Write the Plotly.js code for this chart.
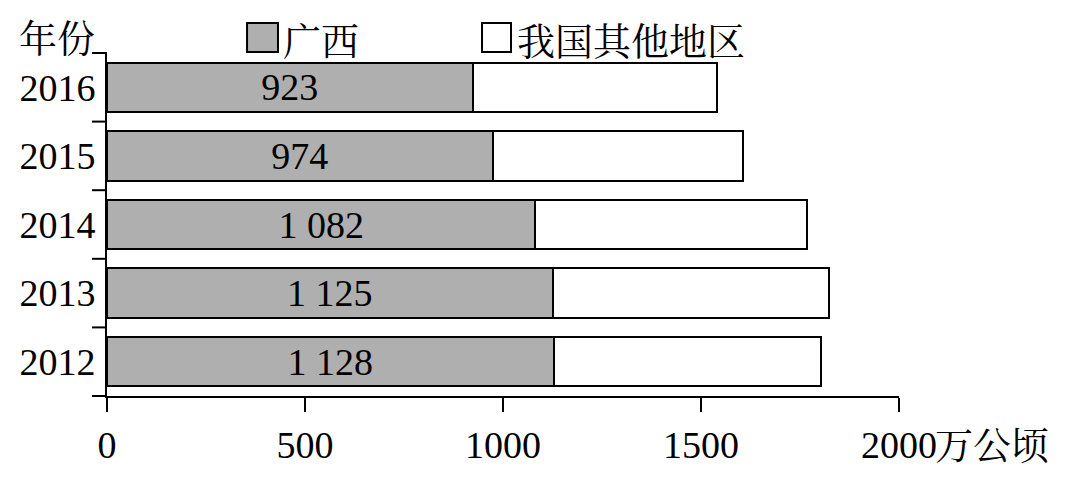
<!DOCTYPE html>
<html>
<head>
<meta charset="utf-8">
<script src="https://cdn.plot.ly/plotly-3.0.1.min.js"></script>
<style>
  html, body { margin: 0; padding: 0; background: #fff; }
  #chart { width: 1080px; height: 477px; }
</style>
</head>
<body>
<div id="chart"></div>
<script>
// 耕地面积（万公顷）：广西与我国其他地区
const years = ['2012', '2013', '2014', '2015', '2016'];
const guangxi = [1128, 1125, 1082, 974, 923];
const others = [675, 698, 686, 631, 618];
const xTickVals = [0, 500, 1000, 1500, 2000];
const xTickText = ['0', '500', '1000', '1500', '2000'];
const unitLabel = '万公顷';
const seriesNames = ['广西', '我国其他地区'];
const yAxisLabel = '年份';

const numFont = 'Liberation Serif, Times New Roman, serif';
const cjkFont = 'Noto Serif CJK SC, Noto Sans CJK SC, serif';

// 千位用空格分隔，例如 1 082
function groupThousands(v) {
  return String(v).replace(/\B(?=(\d{3})+(?!\d))/g, ' ');
}

// 纵轴范围 [-0.5, n-0.5]；年份类别之间的分界换算为纸面坐标
const yRange = [-0.5, years.length - 0.5];
const yBoundaryFrac = years.map((_, i) => i / years.length).concat([1]);

const plotW = 1080 - 107 - 181;
const yTickLen = 15;

const barLine = { color: '#000', width: 2 };

const traces = [
  {
    type: 'bar',
    orientation: 'h',
    name: seriesNames[0],
    y: years,
    x: guangxi,
    marker: { color: '#afafaf', line: barLine },
    text: guangxi.map(groupThousands),
    texttemplate: '%{text}',
    textposition: 'inside',
    insidetextanchor: 'middle',
    constraintext: 'none',
    textangle: 0,
    insidetextfont: { family: numFont, size: 38, color: '#000' },
    hoverinfo: 'x+y+name'
  },
  {
    type: 'bar',
    orientation: 'h',
    name: seriesNames[1],
    y: years,
    x: others,
    marker: { color: '#ffffff', line: barLine },
    hoverinfo: 'x+y+name'
  }
];

// 纵轴分界刻度线
const shapes = yBoundaryFrac.map(f => ({
  type: 'line', xref: 'paper', yref: 'paper', layer: 'above',
  x0: -yTickLen / plotW, x1: 0, y0: f, y1: f,
  line: { color: '#000', width: 2 }
}));

// 图例色块（纸面坐标）
const swatchY0 = 1.003, swatchY1 = 1.0875;
shapes.push(
  { type: 'rect', xref: 'paper', yref: 'paper', x0: 0.1768, x1: 0.2159, y0: swatchY0, y1: swatchY1,
    fillcolor: '#afafaf', line: { color: '#000', width: 2 } },
  { type: 'rect', xref: 'paper', yref: 'paper', x0: 0.4735, x1: 0.5101, y0: swatchY0, y1: swatchY1,
    fillcolor: '#ffffff', line: { color: '#000', width: 2 } }
);

const cjkSize = 38;
const annotations = [
  { xref: 'paper', yref: 'paper', x: 0.2197, y: 1.0437, xanchor: 'left', yanchor: 'middle',
    text: seriesNames[0], showarrow: false, font: { family: cjkFont, size: cjkSize, color: '#000' } },
  { xref: 'paper', yref: 'paper', x: 0.5152, y: 1.0437, xanchor: 'left', yanchor: 'middle',
    text: seriesNames[1], showarrow: false, font: { family: cjkFont, size: cjkSize, color: '#000' } },
  { xref: 'paper', yref: 'paper', x: -0.1135, y: 1.052, xanchor: 'left', yanchor: 'middle',
    text: yAxisLabel, showarrow: false, font: { family: cjkFont, size: cjkSize, color: '#000' } },
  { xref: 'x', yref: 'paper', x: xTickVals[xTickVals.length - 1], y: 0, xanchor: 'left', yanchor: 'middle',
    xshift: 34, yshift: -46, text: unitLabel, showarrow: false,
    font: { family: cjkFont, size: cjkSize, color: '#000' } }
];

const layout = {
  width: 1080,
  height: 477,
  margin: { l: 107, r: 181, t: 53, b: 81, pad: 0 },
  paper_bgcolor: '#fff',
  plot_bgcolor: '#fff',
  barmode: 'stack',
  bargap: 0.28,
  showlegend: false,
  xaxis: {
    range: [0, 2000],
    tickmode: 'array',
    tickvals: xTickVals,
    ticktext: xTickText,
    showline: true,
    linecolor: '#000',
    linewidth: 2,
    ticks: 'outside',
    ticklen: 14,
    tickwidth: 2,
    tickcolor: '#000',
    showgrid: false,
    zeroline: false,
    tickfont: { family: numFont, size: 38, color: '#000' },
    fixedrange: true
  },
  yaxis: {
    type: 'category',
    categoryorder: 'array',
    categoryarray: years,
    range: yRange,
    showline: true,
    linecolor: '#000',
    linewidth: 2,
    ticks: '',
    showgrid: false,
    zeroline: false,
    tickfont: { family: numFont, size: 38, color: '#000' },
    ticklabelstandoff: 2,
    fixedrange: true
  },
  shapes: shapes,
  annotations: annotations
};

Plotly.newPlot('chart', traces, layout, { displayModeBar: false, staticPlot: true });
</script>
</body>
</html>
